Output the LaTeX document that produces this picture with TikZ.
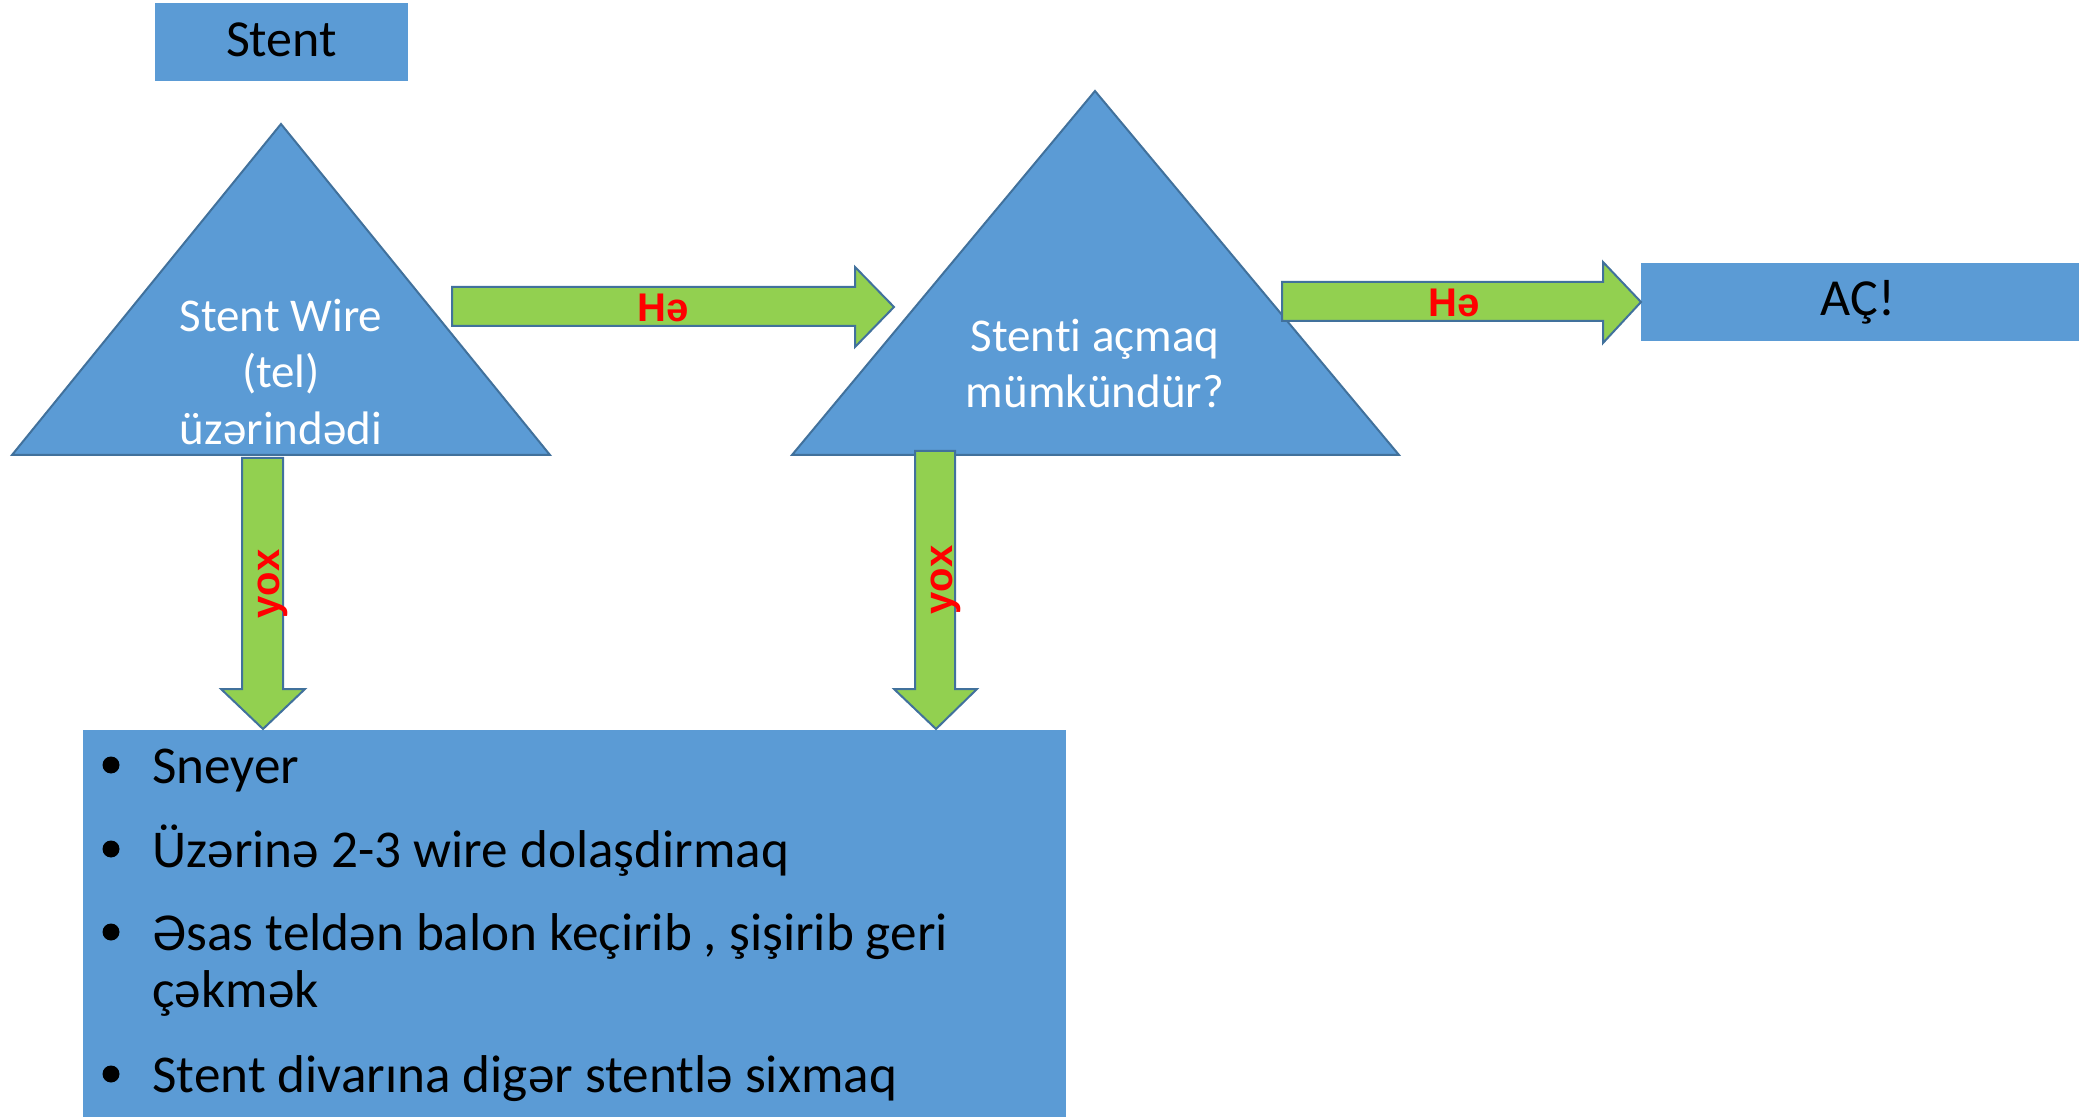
\documentclass[tikz,border=0pt]{standalone}
\usepackage{fontspec}
\setmainfont{Carlito}[Ligatures={NoCommon}]
\newfontfamily\labfont{Liberation Sans}
\definecolor{fillblue}{HTML}{5B9BD5}
\definecolor{lineblue}{HTML}{41719C}
\definecolor{arrowgreen}{HTML}{92D050}
\definecolor{labred}{HTML}{FF0000}
\begin{document}
\begin{tikzpicture}[x=0.5pt,y=-0.5pt,
  boxshape/.style={fill=fillblue, draw=none, inner sep=0pt, minimum width=#1},
  tri/.style={fill=fillblue, draw=lineblue, line width=1pt, line join=miter},
  blockarrow/.style={fill=arrowgreen, draw=lineblue, line width=1pt, line join=miter},
  tritext/.style={anchor=base, text=white, font=\fontsize{23.5pt}{28pt}\selectfont, inner sep=0pt},
  boxtext/.style={anchor=base, text=black, font=\fontsize{26pt}{30pt}\selectfont, inner sep=0pt},
  itemtext/.style={anchor=base west, text=black, font=\fontsize{26.6pt}{31pt}\selectfont, inner sep=0pt},
  labeltext/.style={anchor=base, text=labred, font=\labfont\bfseries\fontsize{20pt}{24pt}\selectfont, inner sep=0pt},
  dot/.style={circle, fill=black, inner sep=0pt, minimum size=8.5pt}]
\useasboundingbox (0,0) rectangle (2079,1117);

% Stent box
\node[boxshape=126.5pt, minimum height=39pt] (stentbox) at (281.5,42) {};
\node[boxtext] (stentlabel) at (281.5,57) {Stent};

% Triangle 1
\coordinate (t1top) at (281,124);
\coordinate (t1l) at (12,455);
\coordinate (t1r) at (550,455);
\draw[tri] (t1top) -- (t1r) -- (t1l) -- cycle;
\node[tritext] (t1a) at (281,332) {Stent Wire};
\node[tritext] (t1b) at (281,388) {(tel)};
\node[tritext] (t1c) at (281,445) {üzərindədi};

% Triangle 2
\coordinate (t2top) at (1095,91);
\coordinate (t2l) at (792,455);
\coordinate (t2r) at (1399,455);
\draw[tri] (t2top) -- (t2r) -- (t2l) -- cycle;
\node[tritext] (t2a) at (1095,352) {Stenti açmaq};
\node[tritext] (t2b) at (1095,408) {mümkündür?};

% AC box
\node[boxshape=219pt, minimum height=39pt] (acbox) at (1860,302) {};
\node[boxtext] (aclabel) at (1858,316) {AÇ!};

% Bottom box
\node[boxshape=491.5pt, minimum height=200pt] (listbox) at (574.5,930) {};

% Right arrow 1
\draw[blockarrow] (452,287) -- (855,287) -- (855,267) -- (894,307) -- (855,347) -- (855,326) -- (452,326) -- cycle;
\node[labeltext] (he1) at (663,322) {Hə};

% Right arrow 2
\draw[blockarrow] (1282,282) -- (1603,282) -- (1603,262) -- (1641,302) -- (1603,343) -- (1603,321) -- (1282,321) -- cycle;
\node[labeltext] (he2) at (1454,317) {Hə};

% Down arrow 1
\draw[blockarrow] (242,458) -- (283,458) -- (283,689) -- (305,689) -- (263,729) -- (221,689) -- (242,689) -- cycle;
\node[labeltext, rotate=90] (yox1) at (279,584) {yox};

% Down arrow 2
\draw[blockarrow] (915,451) -- (955,451) -- (955,689) -- (977,689) -- (936,729) -- (894,689) -- (915,689) -- cycle;
\node[labeltext, rotate=90] (yox2) at (952,580) {yox};

% List
\node[dot] (b1) at (111,765) {};
\node[itemtext] (i1) at (152,783) {Sneyer};
\node[dot] (b2) at (111,849) {};
\node[itemtext] (i2) at (152,867) {Üzərinə 2-3 wire dolaşdirmaq};
\node[dot] (b3) at (111,932) {};
\node[itemtext] (i3a) at (152,950) {Əsas teldən balon keçirib , şişirib geri};
\node[itemtext] (i3b) at (152,1007) {çəkmək};
\node[dot] (b4) at (111,1074) {};
\node[itemtext] (i4) at (152,1092) {Stent divarına digər stentlə sixmaq};
\end{tikzpicture}
\end{document}
